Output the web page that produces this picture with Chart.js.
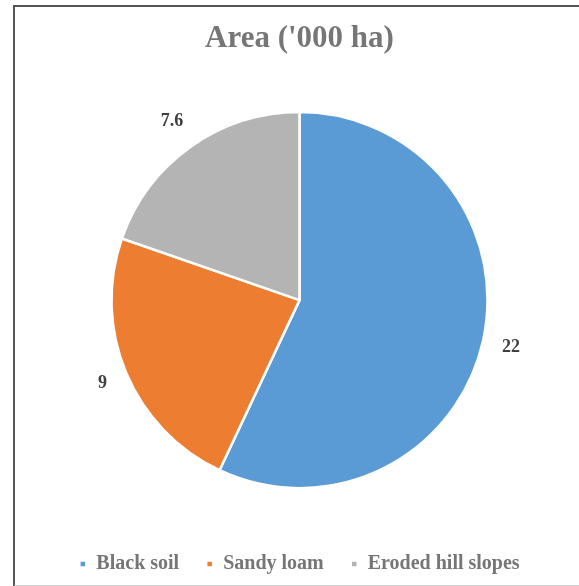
<!DOCTYPE html>
<html>
<head>
<meta charset="utf-8">
<script src="https://cdn.jsdelivr.net/npm/chart.js@4"></script>
<style>
  html, body { margin: 0; padding: 0; background: #fff; }
  #wrap { position: relative; width: 579px; height: 586px; overflow: hidden; }
  #frame { position: absolute; left: 13px; top: 5px; width: 600px; height: 578px;
           border-left: 2px solid #555; border-top: 2px solid #555; border-bottom: 2px solid #cfcfcf; }
  canvas { position: absolute; left: 0; top: 0; }
</style>
</head>
<body>
<div id="wrap">
  <div id="frame"></div>
  <canvas id="pie-chart" width="579" height="586"></canvas>
</div>
<script>
const labels = ["Black soil", "Sandy loam", "Eroded hill slopes"]
const values = [22, 9, 7.6]
const colors = ["#5b9bd5", "#ed7d31", "#b4b4b4"]

const serif = "'Liberation Serif', 'Times New Roman', serif"

// value labels drawn just outside each slice
const outsideLabels = {
  id: 'outsideLabels',
  afterDatasetsDraw(chart) {
    const ctx = chart.ctx
    const meta = chart.getDatasetMeta(0)
    ctx.save()
    ctx.font = 'bold 18px ' + serif
    ctx.fillStyle = '#404040'
    ctx.textAlign = 'center'
    ctx.textBaseline = 'middle'
    meta.data.forEach((arc, i) => {
      const mid = (arc.startAngle + arc.endAngle) / 2
      const dx = Math.cos(mid), dy = Math.sin(mid)
      const txt = String(values[i])
      const w = ctx.measureText(txt).width
      const off = 18 + Math.abs(dx) * w / 2 + Math.abs(dy) * 9
      ctx.fillText(txt, arc.x + dx * (arc.outerRadius + off), arc.y + dy * (arc.outerRadius + off))
    })
    ctx.restore()
  }
}

function makeChart() {
  const config = {
    type: 'pie',
    data: {
      labels: labels,
      datasets: [{
        data: values,
        backgroundColor: colors,
        borderColor: '#ffffff',
        borderWidth: 2.5,
        radius: 188
      }]
    },
    options: {
      responsive: false,
      animation: false,
      layout: { padding: { left: 20, right: 0, top: 0, bottom: 2 } },
      plugins: {
        title: {
          display: true,
          text: "Area ('000 ha)",
          color: '#767676',
          font: { family: serif, size: 31, weight: 'bold' },
          padding: { top: 20, bottom: 16 }
        },
        legend: {
          position: 'bottom',
          labels: {
            color: '#767676',
            font: { family: serif, size: 20, weight: 'bold' },
            boxWidth: 7, boxHeight: 7,
            padding: 27
          }
        },
        tooltip: { enabled: false }
      }
    },
    plugins: [outsideLabels]
  }
  new Chart(document.getElementById("pie-chart"), config)
}

Promise.all([
  document.fonts.load("bold 20px 'Liberation Serif'"),
  document.fonts.load("bold 30px 'Liberation Serif'")
]).then(makeChart, makeChart)
</script>
</body>
</html>
